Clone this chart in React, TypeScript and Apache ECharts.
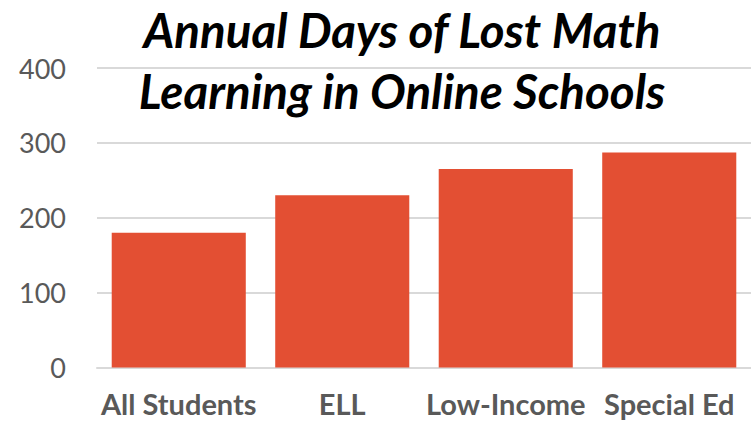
import React, { useEffect, useRef } from "react";
import * as echarts from "echarts";

const categories = ["All Students", "ELL", "Low-Income", "Special Ed"];
const values = [180, 230, 265, 287];
const titleLines = ["Annual Days of Lost Math", "Learning in Online Schools"];

export default function App() {
  const ref = useRef<HTMLDivElement>(null);
  useEffect(() => {
    const chart = echarts.init(ref.current!, null, { renderer: "svg" });
    chart.setOption({
      animation: false,
      backgroundColor: "#ffffff",
      title: {
        text: titleLines.join("\n"),
        left: 397,
        textAlign: "center",
        top: -6,
        textStyle: {
          fontFamily: "Lato",
          fontSize: 47.5,
          fontWeight: "bold",
          fontStyle: "italic",
          color: "#000000",
          lineHeight: 61,
        },
      },
      grid: { left: 97, right: 0, top: 68, bottom: 53.5, containLabel: false },
      xAxis: {
        type: "category",
        data: categories,
        axisLine: { lineStyle: { color: "#D9D9D9", width: 2 } },
        axisTick: { show: false },
        axisLabel: {
          margin: 21,
          color: "#595959",
          fontFamily: "Lato",
          fontWeight: "bold",
          fontSize: 29,
          lineHeight: 29,
          interval: 0,
        },
      },
      yAxis: {
        type: "value",
        min: 0,
        max: 400,
        interval: 100,
        axisLine: { show: false },
        axisTick: { show: false },
        splitLine: { lineStyle: { color: "#D9D9D9", width: 2 } },
        axisLabel: {
          margin: 31,
          color: "#595959",
          fontFamily: "Lato",
          fontSize: 27,
        },
      },
      series: [
        {
          type: "bar",
          data: values,
          barCategoryGap: "18%",
          itemStyle: { color: "#E34F33" },
        },
      ],
    });
    return () => chart.dispose();
  }, []);
  return <div ref={ref} style={{ width: 751, height: 421, position: "absolute", left: 0, top: 0 }} />;
}
